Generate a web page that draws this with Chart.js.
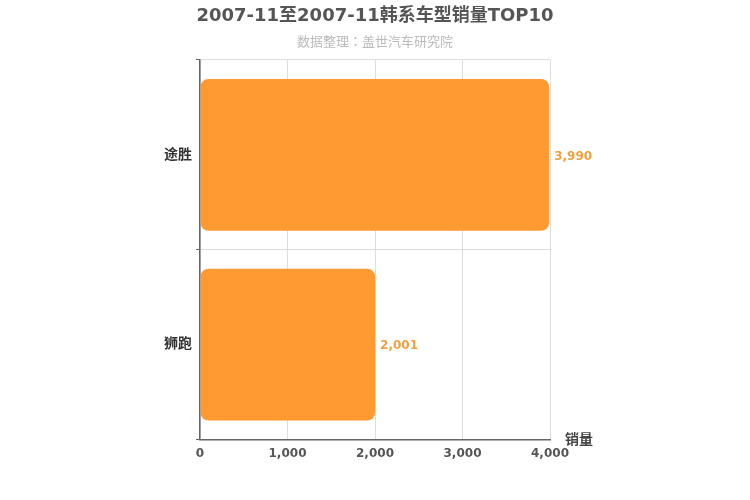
<!DOCTYPE html>
<html><head><meta charset="utf-8">
<script src="https://cdn.jsdelivr.net/npm/chart.js@4/dist/chart.umd.min.js"></script>
<style>html,body{margin:0;padding:0;background:#fff}#wrap{width:750px;height:500px}</style>
</head><body><div id="wrap"><canvas id="c"></canvas></div>
<script>
const categories = ['途胜', '狮跑'];
const sales = [3990, 2001];
const xTicks = [0, 1000, 2000, 3000, 4000];
const titleText = '2007-11至2007-11韩系车型销量TOP10';
const subtitleText = '数据整理：盖世汽车研究院';
const axisTitle = '销量';

const FONT = "'DejaVu Sans', 'Noto Sans CJK SC', sans-serif";
const CJK = "'Noto Sans CJK JP', 'Noto Sans CJK SC', 'DejaVu Sans', sans-serif";
const ORANGE = '#FF9A33';

const labelPlugin = {
  id: 'valueLabels',
  afterDatasetsDraw(chart) {
    const ctx = chart.ctx;
    const meta = chart.getDatasetMeta(0);
    ctx.save();
    ctx.font = 'bold 12px ' + FONT;
    ctx.fillStyle = '#F0A040';
    ctx.textAlign = 'left';
    ctx.textBaseline = 'middle';
    meta.data.forEach((bar, i) => {
      ctx.fillText(sales[i].toLocaleString('en-US'), bar.x + 5, bar.y + 1.5);
    });
    const xs = chart.scales.x;
    ctx.font = 'bold 14px ' + FONT;
    ctx.fillStyle = '#444';
    ctx.fillText(axisTitle, xs.right + 15, xs.top + 1);
    const cx = chart.width / 2;
    ctx.textAlign = 'center';
    ctx.font = 'bold 18px ' + FONT;
    ctx.fillStyle = '#555';
    ctx.fillText(titleText, cx, 16);
    ctx.font = '13px ' + CJK;
    ctx.fillStyle = '#bbb';
    ctx.fillText(subtitleText, cx, 41);
    ctx.restore();
  }
};

new Chart(document.getElementById('c'), {
  type: 'bar',
  data: {
    labels: categories,
    datasets: [{
      data: sales,
      backgroundColor: ORANGE,
      borderRadius: 8,
      borderSkipped: false,
      barPercentage: 0.8,
      categoryPercentage: 1.0
    }]
  },
  options: {
    indexAxis: 'y',
    responsive: true,
    maintainAspectRatio: false,
    animation: false,
    layout: { padding: { left: 150, right: 200, top: 60, bottom: 32 } },
    plugins: {
      legend: { display: false },
      tooltip: { enabled: false },
      title: { display: false },
      subtitle: { display: false }
    },
    scales: {
      x: {
        min: 0, max: 4000,
        afterBuildTicks(scale) { scale.ticks = xTicks.map(v => ({ value: v })); },
        grid: { color: '#ddd', drawTicks: false },
        border: { color: '#666', width: 1.5 },
        ticks: {
          color: '#555', padding: 7,
          font: { family: FONT, size: 12, weight: 'bold' },
          callback: v => Number(v).toLocaleString('en-US')
        }
      },
      y: {
        afterFit(scale) { scale.width = 50; },
        grid: { color: '#ddd', tickLength: 4, tickColor: '#666' },
        border: { color: '#666', width: 1.5 },
        ticks: {
          color: '#333', padding: 4,
          font: { family: FONT, size: 14, weight: 'bold' }
        }
      }
    }
  },
  plugins: [labelPlugin]
});
</script></body></html>
